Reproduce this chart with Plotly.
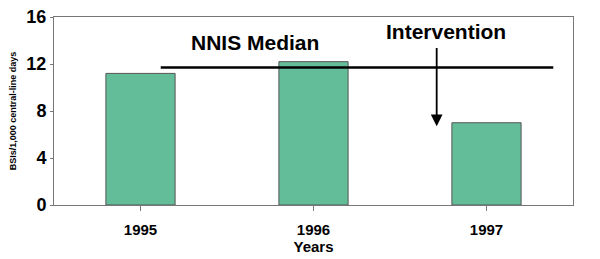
import plotly.graph_objects as go

years = ["1995", "1996", "1997"]
bsi_rates = [11.2, 12.2, 7.0]
nnis_median = 11.7
y_ticks = [0, 4, 8, 12, 16]

bar_color = "rgb(100,189,153)"
font = "Liberation Sans, Arial, sans-serif"

fig = go.Figure()
fig.add_trace(go.Bar(
    x=[0, 1, 2], y=bsi_rates, width=0.4,
    marker=dict(color=bar_color, line=dict(color="#555555", width=1)),
))

# NNIS median line
fig.add_shape(type="line", xref="x", yref="y", x0=0.117, x1=2.386,
              y0=nnis_median, y1=nnis_median,
              line=dict(color="black", width=2.5))
fig.add_annotation(x=0.66, y=13.8, xref="x", yref="y", text="<b>NNIS Median</b>",
                   showarrow=False, font=dict(family=font, size=21, color="black"))
# Intervention arrow
fig.add_annotation(x=1.712, y=6.7, ax=1.712, ay=13.5, xref="x", yref="y",
                   axref="x", ayref="y", text="", showarrow=True,
                   arrowhead=2, arrowsize=1.3, arrowwidth=1.8, arrowcolor="black")
fig.add_annotation(x=1.766, y=14.8, xref="x", yref="y", text="<b>Intervention</b>",
                   showarrow=False, font=dict(family=font, size=21, color="black"))

fig.update_layout(
    width=600, height=259,
    margin=dict(l=54, r=27, t=17, b=54, autoexpand=False),
    paper_bgcolor="white", plot_bgcolor="white",
    showlegend=False,
    font=dict(family=font, color="black"),
    xaxis=dict(
        range=[-0.5, 2.5], tickmode="array", tickvals=[0, 1, 2],
        ticktext=["<b>%s</b>" % y for y in years],
        tickfont=dict(size=15), showgrid=False, showline=True,
        linecolor="#777777", linewidth=1, mirror=True,
        ticks="outside", ticklen=5, tickcolor="#777777",
        tickson="boundaries", ticklabelstandoff=6, automargin=False,
        title=dict(text="<b>Years</b>", font=dict(size=15), standoff=0),
    ),
    yaxis=dict(
        range=[0, 16], tickmode="array", tickvals=y_ticks,
        ticktext=["<b>%d</b>" % t for t in y_ticks],
        tickfont=dict(size=18), showgrid=False, showline=True, zeroline=False,
        linecolor="#777777", linewidth=1, mirror=True,
        ticks="outside", ticklen=3, tickcolor="#777777", automargin=False,
        title=dict(text="<b>BSIs/1,000 central-line days</b>", font=dict(size=9), standoff=8),
    ),
)

fig.write_html("out.html")
